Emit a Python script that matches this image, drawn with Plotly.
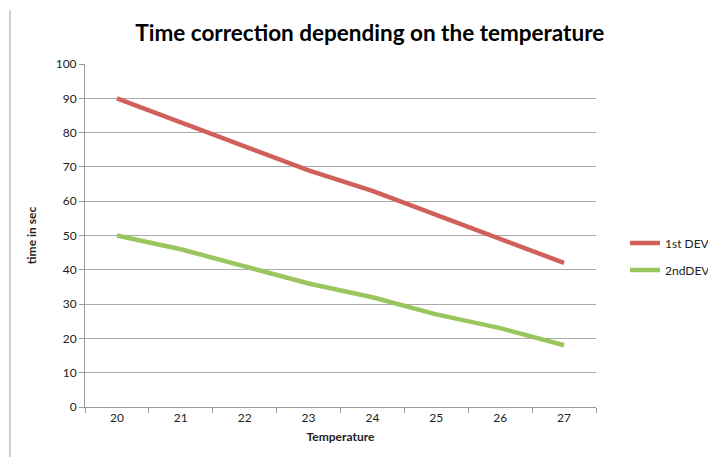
import plotly.graph_objects as go

temperature = ["20", "21", "22", "23", "24", "25", "26", "27"]
dev1 = [90, 83, 76, 69, 63, 56, 49, 42]
dev2 = [50, 46, 41, 36, 32, 27, 23, 18]
series_names = ["1st DEV", "2ndDEV"]
y_ticks = [0, 10, 20, 30, 40, 50, 60, 70, 80, 90, 100]

fig = go.Figure()
fig.add_trace(go.Scatter(x=temperature, y=dev1, mode="lines", name=series_names[0],
                         legendgroup="a",
                         line=dict(color="#D0605A", width=4.5)))
fig.add_trace(go.Scatter(x=temperature, y=dev2, mode="lines", name=series_names[1],
                         legendgroup="b",
                         line=dict(color="#9BC55E", width=4.5)))

fig.update_layout(
    width=708, height=449,
    margin=dict(l=77, r=120, t=56, b=50),
    paper_bgcolor="white", plot_bgcolor="white",
    font=dict(family="Lato, Open Sans, sans-serif", size=12, color="#222"),
    title=dict(text="<b>Time correction depending on the temperature</b>",
               x=0.511, xanchor="center", y=0.944, yanchor="middle",
               font=dict(size=22.5, color="black")),
    showlegend=True,
    legend=dict(xref="container", yref="container", x=1.007, xanchor="right",
                y=0.4465, yanchor="middle", bgcolor="rgba(0,0,0,0)",
                font=dict(size=12), itemwidth=30, tracegroupgap=8),
    xaxis=dict(type="category", range=[-0.5, 7.5], tickson="boundaries",
               ticks="outside", ticklen=5,
               tickcolor="#999", showline=True, linecolor="#999", linewidth=1,
               showgrid=False,
               title=dict(text="<b>Temperature</b>", font=dict(size=12), standoff=8)),
    yaxis=dict(range=[0, 100], tickvals=y_ticks, ticks="outside", ticklen=5,
               tickcolor="#999", showline=True, linecolor="#999", linewidth=1,
               showgrid=True, gridcolor="#AAAAAA", gridwidth=1, zeroline=False,
               title=dict(text="<b>time in sec</b>", font=dict(size=12), standoff=16)),
    shapes=[dict(type="line", xref="paper", yref="paper", x0=-0.147, x1=-0.147,
                 y0=-0.146, y1=1.157, line=dict(color="#BBBBBB", width=1.5))],
)

fig.write_html("out.html")
